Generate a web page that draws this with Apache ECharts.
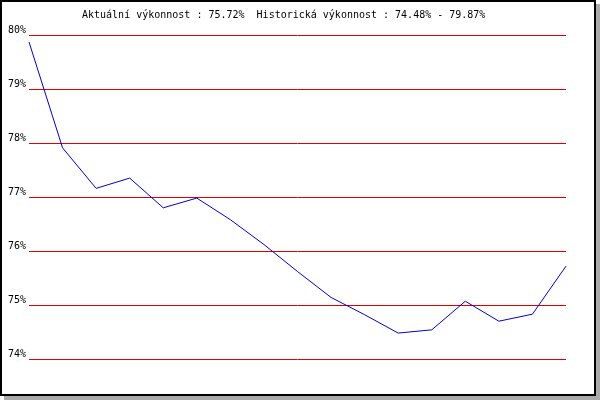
<!DOCTYPE html>
<html>
<head>
<meta charset="utf-8">
<script src="https://cdn.jsdelivr.net/npm/echarts@6/dist/echarts.min.js"></script>
<style>
    body{
        margin: 0;
        background: #fff;
    }
    #chart{
        position: absolute;
        left: 0;
        top: 0;
        width: 592px;
        height: 392px;
        border: 2px solid #000;
        box-shadow: 4px 4px 0 #aaaaaa;
        background: #fff;
    }
</style>
</head>
<body>
<div id="chart"></div>
<script>
// data
var titleText = 'Aktuální výkonnost : 75.72%  Historická výkonnost : 74.48% - 79.87%';
var categories = ['1','2','3','4','5','6','7','8','9','10','11','12','13','14','15','16','17'];
var performance = [79.87, 77.91, 77.16, 77.35, 76.80, 76.98, 76.58, 76.12, 75.62, 75.14, 74.82, 74.48, 74.54, 75.07, 74.70, 74.83, 75.72];
var yMin = 74;
var yMax = 80;

var myChart = echarts.init(document.getElementById('chart'));

var option = {
    animation: false,
    title: {
        text: titleText,
        left: 75,
        top: 3,
        textStyle: {
            fontFamily: 'DejaVu Sans Mono',
            fontSize: 10,
            fontWeight: 'normal',
            color: '#000'
        }
    },
    grid: {
        left: 27,
        right: 28,
        top: 33,
        bottom: 35
    },
    xAxis: {
        type: 'category',
        boundaryGap: false,
        data: categories,
        axisLine: {show: false},
        axisTick: {show: false},
        axisLabel: {show: false},
        splitLine: {show: false}
    },
    yAxis: {
        type: 'value',
        min: yMin,
        max: yMax,
        interval: 1,
        axisLine: {show: false},
        axisTick: {show: false},
        axisLabel: {
            formatter: '{value}%',
            fontFamily: 'DejaVu Sans Mono',
            fontSize: 10,
            color: '#000',
            margin: 3,
            verticalAlign: 'bottom'
        },
        splitLine: {
            lineStyle: {
                color: '#e00000',
                width: 1
            }
        }
    },
    series: [{
        type: 'line',
        data: performance,
        showSymbol: false,
        lineStyle: {
            color: '#0000cc',
            width: 1
        }
    }]
};

myChart.setOption(option);
</script>
</body>
</html>
